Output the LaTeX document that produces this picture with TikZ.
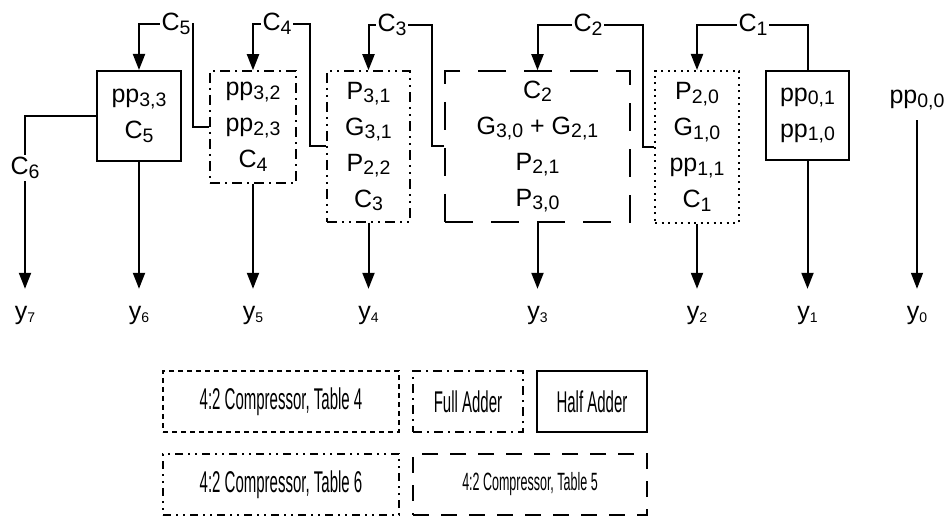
\documentclass[tikz,border=0pt]{standalone}
\usepackage{fontspec}
\setmainfont{Liberation Sans}
\usetikzlibrary{arrows.meta}
\newcommand{\sbx}[1]{\raisebox{-3.5pt}{\fontsize{19.5}{19.5}\selectfont #1}}
\newcommand{\sby}[1]{\raisebox{-3pt}{\fontsize{14}{14}\selectfont #1}}
\newcommand{\legtxt}[1]{\scalebox{0.5}[1]{#1}}
\begin{document}
\begin{tikzpicture}[x=1pt,y=-1pt,
  every node/.style={font=\fontsize{25}{36}\selectfont, inner sep=0pt},
  box/.style={draw, align=center, line width=1.5pt},
  habox/.style={box, line width=2pt},
  fabox/.style={box, dash pattern=on 10pt off 5pt on 2pt off 5pt},
  sixbox/.style={box, dash pattern=on 10pt off 5pt on 2pt off 5pt on 2pt off 5pt},
  fivebox/.style={box, dash pattern=on 28pt off 18pt},
  fourbox/.style={box, line width=2pt, dash pattern=on 2pt off 4.5pt},
  conn/.style={line width=2pt},
  arr/.style={conn, -{Triangle[length=16pt,width=12pt]}},
  clbl/.style={fill=white, inner sep=2pt},
  outl/.style={anchor=base, text height=31pt, font=\fontsize{25}{25}\selectfont},
  lgbox/.style={draw, line width=1.5pt, font=\fontsize{30}{30}\selectfont},
  lgfour/.style={lgbox, dash pattern=on 5pt off 4pt},
  lgfa/.style={lgbox, dash pattern=on 9pt off 5pt on 2pt off 5pt},
  lgsix/.style={lgbox, dash pattern=on 8pt off 5pt on 2pt off 5pt on 2pt off 5pt},
  lgfive/.style={lgbox, dash pattern=on 16pt off 12pt, font=\fontsize{25}{25}\selectfont}]
\useasboundingbox (0,0) rectangle (950,518);

% boxes
\node[habox, minimum width=84pt, minimum height=90pt] (ha1) at (139,116) {pp\sbx{3,3}\\C\sbx{5}};
\node[fabox, minimum width=86pt, minimum height=112pt] (fa) at (253,127) {pp\sbx{3,2}\\pp\sbx{2,3}\\C\sbx{4}};
\node[sixbox, minimum width=83pt, minimum height=151pt] (t6) at (368.5,146.5) {P\sbx{3,1}\\G\sbx{3,1}\\P\sbx{2,2}\\C\sbx{3}};
\node[fivebox, minimum width=185pt, minimum height=151pt] (t5) at (537.5,146.5) {C\sbx{2}\\G\sbx{3,0} + G\sbx{2,1}\\P\sbx{2,1}\\P\sbx{3,0}};
\node[fourbox, minimum width=84pt, minimum height=152pt] (t4) at (697,147) {P\sbx{2,0}\\G\sbx{1,0}\\pp\sbx{1,1}\\C\sbx{1}};
\node[habox, minimum width=83pt, minimum height=89pt] (ha2) at (807.5,115.5) {pp\sbx{0,1}\\pp\sbx{1,0}};
\node[anchor=base, text depth=16pt] (pp00) at (917,104) {pp\sbx{0,0}};

% outputs
\node[outl] (o7) at (25,320) {y\sby{7}};
\node[outl] (o6) at (139,320) {y\sby{6}};
\node[outl] (o5) at (253,320) {y\sby{5}};
\node[outl] (o4) at (368.5,320) {y\sby{4}};
\node[outl] (o3) at (537.5,320) {y\sby{3}};
\node[outl] (o2) at (697,320) {y\sby{2}};
\node[outl] (o1) at (807.5,320) {y\sby{1}};
\node[outl] (o0) at (917,320) {y\sby{0}};

% carry corners
\coordinate (k5) at (193,24);
\coordinate (k4) at (310,24);
\coordinate (k3) at (432,25);
\coordinate (k2) at (643,25);
\coordinate (k1) at (807.5,25);

% carries
\draw[arr] (fa.west) -| (k5) -| (ha1.north);
\draw[arr] (t6.west) -| (k4) -| (fa.north);
\draw[arr] (t5.west) -| (k3) -| (t6.north);
\draw[arr] (t4.west) -| (k2) -| (t5.north);
\draw[arr] (ha2.north) -- (k1) -| (t4.north);
\draw[arr] (ha1.west) -| (o7.north);

\node[clbl] (c5) at (176,24) {C\sbx{5}};
\node[clbl] (c4) at (277,24) {C\sbx{4}};
\node[clbl] (c3) at (392,25) {C\sbx{3}};
\node[clbl] (c2) at (588,25) {C\sbx{2}};
\node[clbl] (c1) at (753,25) {C\sbx{1}};
\node[clbl] (c6) at (25,168) {C\sbx{6}};

% output arrows
\draw[arr] (ha1.south) -- (o6.north);
\draw[arr] (fa.south) -- (o5.north);
\draw[arr] (t6.south) -- (o4.north);
\draw[arr] (t5.south) -- (o3.north);
\draw[arr] (t4.south) -- (o2.north);
\draw[arr] (ha2.south) -- (o1.north);
\draw[arr, line width=1.3pt] (pp00.south) -- (o0.north);

% legend
\node[lgfour, minimum width=236pt, minimum height=61pt] (l4) at (281,401.5) {\legtxt{4:2 Compressor, Table 4}};
\node[lgfa, minimum width=110pt, minimum height=61pt] (lfa) at (468,401.5) {\legtxt{Full Adder}};
\node[lgbox, minimum width=110pt, minimum height=61pt] (lha) at (592,401.5) {\legtxt{Half Adder}};
\node[lgsix, minimum width=236pt, minimum height=61pt] (l6) at (281,484.5) {\legtxt{4:2 Compressor, Table 6}};
\node[lgfive, minimum width=234pt, minimum height=61pt] (l5) at (530,484.5) {\legtxt{4:2 Compressor, Table 5}};
\end{tikzpicture}
\end{document}
